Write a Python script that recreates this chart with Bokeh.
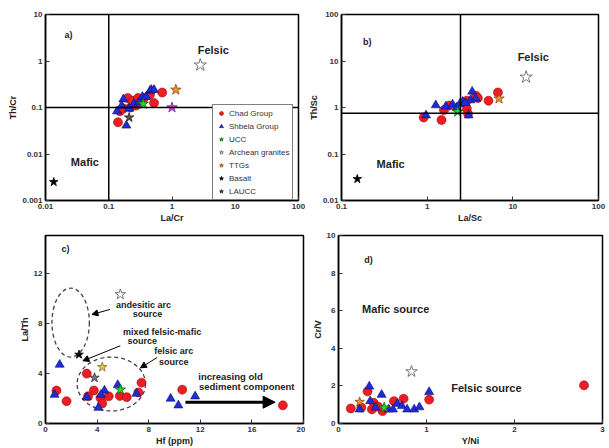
from bokeh.plotting import figure
from bokeh.models import (Range1d, Span, FixedTicker, CustomJSTickFormatter, Legend,
                          LegendItem, Arrow, NormalHead)
from bokeh.layouts import column, row
from bokeh.core.properties import value
from bokeh.embed import file_html
from bokeh.resources import INLINE

# ---------------- data ----------------
# panel a: La/Cr vs Th/Cr
a_chad_lacr = [0.14, 0.15, 0.17, 0.20, 0.22, 0.24, 0.27, 0.29, 0.31, 0.36, 0.45, 0.52, 0.70]
a_chad_thcr = [0.048, 0.083, 0.095, 0.16, 0.10, 0.14, 0.11, 0.16, 0.13, 0.16, 0.19, 0.125, 0.21]
a_shb_lacr = [0.135, 0.17, 0.19, 0.16, 0.21, 0.25, 0.30, 0.34, 0.39, 0.45, 0.47, 0.52]
a_shb_thcr = [0.083, 0.15, 0.041, 0.11, 0.095, 0.12, 0.13, 0.17, 0.17, 0.23, 0.24, 0.24]
a_ucc = (0.35, 0.12)
a_archean = (2.8, 0.82)
a_ttg = (1.15, 0.24)
a_basalt = (0.0135, 0.0025)
a_laucc = (0.21, 0.061)
a_other = (1.0, 0.1)
a_hline, a_vline = 0.1, 0.1

# panel b: La/Sc vs Th/Sc
b_chad_lasc = [0.91, 1.47, 1.57, 1.8, 2.9, 3.0, 3.7, 3.9, 5.2, 6.7, 2.9]
b_chad_thsc = [0.61, 0.54, 0.88, 1.1, 0.95, 0.74, 1.8, 1.6, 1.4, 2.1, 1.4]
b_shb_lasc = [0.97, 1.26, 1.65, 1.98, 2.2, 2.6, 3.2, 3.35, 3.05, 3.7, 2.4, 2.8]
b_shb_thsc = [0.68, 1.12, 1.05, 1.16, 1.0, 1.34, 1.43, 2.2, 0.68, 1.55, 1.2, 1.25]
b_ucc = (2.27, 0.81)
b_archean = (14.3, 4.5)
b_ttg = (6.9, 1.55)
b_basalt = (0.153, 0.029)
b_hline, b_vline = 0.75, 2.45

# panel c: Hf (ppm) vs La/Th
c_chad_hf = [0.85, 1.63, 3.2, 3.3, 3.75, 4.26, 4.4, 4.9, 5.76, 6.3, 7.2, 7.44, 10.6, 18.4]
c_chad_lath = [2.63, 1.78, 3.98, 2.17, 2.63, 2.04, 1.6, 2.17, 2.2, 2.1, 2.48, 3.26, 2.7, 1.45]
c_shb_hf = [0.7, 1.1, 3.2, 4.1, 4.57, 5.6, 7.05, 9.7, 10.3, 11.6, 4.3]
c_shb_lath = [2.3, 4.7, 2.1, 1.26, 2.63, 3.07, 2.38, 1.99, 1.45, 2.17, 2.3]
c_ucc = (5.8, 2.7)
c_archean = (5.8, 10.3)
c_ttg = (4.4, 4.5)
c_basalt = (2.6, 5.5)
c_laucc = (3.8, 3.65)
# source fields (centre x, centre y, width, height)
c_fields_x = [1.95, 5.1]
c_fields_y = [8.05, 3.15]
c_fields_w = [2.9, 5.3]
c_fields_h = [5.5, 4.3]

# panel d: Y/Ni vs Cr/V
d_chad_yni = [0.14, 0.33, 0.38, 0.40, 0.50, 0.63, 0.74, 1.03, 2.79, 0.26, 0.45]
d_chad_crv = [0.8, 1.71, 0.75, 1.1, 0.66, 1.19, 1.32, 1.27, 2.03, 0.85, 0.9]
d_shb_yni = [0.24, 0.35, 0.36, 0.49, 0.57, 0.67, 0.72, 0.78, 0.86, 0.92, 1.03, 0.42, 0.62]
d_shb_crv = [0.75, 1.97, 1.19, 1.53, 0.75, 1.05, 0.93, 0.75, 0.75, 0.87, 1.68, 0.85, 0.75]
d_ucc = (0.52, 0.84)
d_archean = (0.83, 2.76)
d_ttg = (0.24, 1.15)

legend_labels = ["Chad Group", "Shbela Group", "UCC", "Archean granites", "TTGs", "Basalt", "LAUCC"]

# ---------------- styling ----------------
FONT = "Liberation Sans"
RED, RED_L = "#ee1d23", "#9a0b0b"
BLUE, BLUE_L = "#1f2bd4", "#0a1070"
GREEN = "#2fd02f"
ORANGE = "#e8923a"


def make_fig(w, h, xr, yr, xtype, ytype, bl, br, bt, bb, xlabel, ylabel, xt, yt, log):
    p = figure(width=w, height=h, x_range=Range1d(*xr), y_range=Range1d(*yr),
               x_axis_type=xtype, y_axis_type=ytype, output_backend="svg",
               toolbar_location=None, min_border_left=bl, min_border_right=br,
               min_border_top=bt, min_border_bottom=bb)
    p.grid.visible = False
    p.outline_line_color = "black"
    p.outline_line_width = 1.5
    p.background_fill_color = "white"
    p.border_fill_color = "white"
    p.xaxis.ticker = FixedTicker(ticks=xt, minor_ticks=[])
    p.yaxis.ticker = FixedTicker(ticks=yt, minor_ticks=[])
    if log:
        fmt = "return tick.toString();"
        p.xaxis.formatter = CustomJSTickFormatter(code=fmt)
        p.yaxis.formatter = CustomJSTickFormatter(code=fmt)
    p.xaxis.axis_label = xlabel
    p.yaxis.axis_label = ylabel
    for ax in p.axis:
        ax.major_tick_in = 4
        ax.major_tick_out = 0
        ax.minor_tick_line_color = None
        ax.axis_line_color = "black"
        ax.axis_line_width = 1.5
        ax.major_tick_line_color = "#333"
        ax.major_label_text_font = FONT
        ax.major_label_text_font_style = "bold"
        ax.major_label_text_font_size = "8px"
        ax.major_label_text_color = "#333"
        ax.major_label_standoff = 3
        ax.axis_label_text_font = FONT
        ax.axis_label_text_font_style = "bold"
        ax.axis_label_text_font_size = "9px"
        ax.axis_label_text_color = "#222"
        ax.axis_label_standoff = 1
    return p


def txt(p, x, y, s, size="11px"):
    p.text(x=[x], y=[y], text=[s], text_font=value(FONT), text_font_style="bold",
           text_font_size=size, text_align="center", text_baseline="middle",
           text_color="#222")


def groups(p, cx, cy, sx, sy):
    r1 = p.scatter(cx, cy, marker="circle", size=9, fill_color=RED, line_color=RED_L, line_width=0.6)
    r2 = p.scatter(sx, sy, marker="triangle", size=9, fill_color=BLUE, line_color=BLUE_L, line_width=0.6)
    return r1, r2


def star(p, pt, fill, line, size=11, lw=0.8):
    return p.scatter([pt[0]], [pt[1]], marker="star", size=size, fill_color=fill,
                     line_color=line, line_width=lw)


# ---------------- panel a ----------------
pa = make_fig(305, 225, (0.01, 100), (0.001, 10), "log", "log", 45, 7, 14, 24,
              "La/Cr", "Th/Cr", [0.01, 0.1, 1, 10, 100], [0.001, 0.01, 0.1, 1, 10], True)
pa.add_layout(Span(location=a_vline, dimension="height", line_color="black", line_width=1.5))
pa.add_layout(Span(location=a_hline, dimension="width", line_color="black", line_width=1.5))
ra_chad, ra_shb = groups(pa, a_chad_lacr, a_chad_thcr, a_shb_lacr, a_shb_thcr)
ra_ucc = star(pa, a_ucc, GREEN, "#0a6a0a")
ra_arch = star(pa, a_archean, "white", "#777", size=13, lw=1)
ra_ttg = star(pa, a_ttg, ORANGE, "#8a4a10")
ra_bas = star(pa, a_basalt, "black", "black", size=9)
ra_lau = star(pa, a_laucc, "#555", "#222", size=10)
star(pa, a_other, "#c04fd0", "#7a2a8a")
txt(pa, 4.5, 1.7, "Felsic")
txt(pa, 0.042, 0.0068, "Mafic")
txt(pa, 0.023, 3.6, "a)", "9px")
legend = Legend(items=[LegendItem(label=l, renderers=[r]) for l, r in zip(
    legend_labels, [ra_chad, ra_shb, ra_ucc, ra_arch, ra_ttg, ra_bas, ra_lau])],
    location=(167, 0), label_text_font=FONT, label_text_font_size="8px",
    label_text_color="#333", label_height=10, glyph_height=10, glyph_width=10,
    spacing=3, padding=3, label_standoff=3, margin=0,
    border_line_color="black", border_line_width=1.5, background_fill_alpha=1)
pa.add_layout(legend)

# ---------------- panel b ----------------
pb = make_fig(304, 225, (0.1, 100), (0.01, 100), "log", "log", 36, 11, 14, 23,
              "La/Sc", "Th/Sc", [0.1, 1, 10, 100], [0.01, 0.1, 1, 10, 100], True)
pb.add_layout(Span(location=b_vline, dimension="height", line_color="black", line_width=1.5))
pb.add_layout(Span(location=b_hline, dimension="width", line_color="black", line_width=1.5))
groups(pb, b_chad_lasc, b_chad_thsc, b_shb_lasc, b_shb_thsc)
star(pb, b_ucc, GREEN, "#0a6a0a")
star(pb, b_archean, "white", "#777", size=13, lw=1)
star(pb, b_ttg, ORANGE, "#8a4a10")
star(pb, b_basalt, "black", "black", size=9)
txt(pb, 17.3, 12.2, "Felsic")
txt(pb, 0.375, 0.061, "Mafic")
txt(pb, 0.2, 25, "b)", "9px")

# ---------------- panel c ----------------
pc = make_fig(305, 223, (0, 20), (0, 15), "linear", "linear", 45, 2, 9, 20,
              "Hf (ppm)", "La/Th", [0, 4, 8, 12, 16, 20], [0, 4, 8, 12], False)
pc.ellipse(x=c_fields_x, y=c_fields_y, width=c_fields_w, height=c_fields_h,
           fill_alpha=0, line_color="#444", line_width=1.3, line_dash="4 3")
groups(pc, c_chad_hf, c_chad_lath, c_shb_hf, c_shb_lath)
star(pc, c_ucc, GREEN, "#0a6a0a")
star(pc, c_archean, "white", "#777", size=11, lw=1)
star(pc, c_ttg, "#e8c060", "#8a6a20", size=10)
star(pc, c_basalt, "black", "black", size=9)
star(pc, c_laucc, "#777", "#333", size=10)
pc.add_layout(Arrow(end=NormalHead(size=12, fill_color="black", line_color="black"),
                    x_start=10.85, y_start=1.7, x_end=17.8, y_end=1.7, line_width=3))
for xs, ys, xe, ye in [(5.0, 9.1, 3.6, 8.7), (5.8, 6.2, 2.9, 5.0), (8.66, 5.27, 7.36, 4.44)]:
    pc.add_layout(Arrow(end=NormalHead(size=6, fill_color="black", line_color="black"),
                        x_start=xs, y_start=ys, x_end=xe, y_end=ye, line_width=1))
txt(pc, 7.6, 9.46, "andesitic arc", "9px")
txt(pc, 7.9, 8.76, "source", "9px")
txt(pc, 9.04, 7.34, "mixed felsic-mafic", "9px")
txt(pc, 7.5, 6.57, "source", "9px")
txt(pc, 9.95, 5.79, "felsic arc", "9px")
txt(pc, 9.95, 4.88, "source", "9px")
txt(pc, 14.34, 3.72, "increasing old", "9.5px")
txt(pc, 15.6, 2.95, "sediment component", "9.5px")
txt(pc, 1.55, 13.9, "c)", "9px")

# ---------------- panel d ----------------
pd_ = make_fig(304, 223, (0, 3), (0, 10), "linear", "linear", 33, 7, 10, 22,
               "Y/Ni", "Cr/V", [0, 1, 2, 3], [0, 2, 4, 6, 8, 10], False)
groups(pd_, d_chad_yni, d_chad_crv, d_shb_yni, d_shb_crv)
star(pd_, d_ucc, GREEN, "#0a6a0a")
star(pd_, d_archean, "white", "#777", size=12, lw=1)
star(pd_, d_ttg, ORANGE, "#8a4a10", size=10)
txt(pd_, 0.65, 6.07, "Mafic source")
txt(pd_, 1.68, 1.88, "Felsic source")
txt(pd_, 0.34, 8.7, "d)", "9px")

layout = column(row(pa, pb), row(pc, pd_))
open("out.html", "w").write(file_html(layout, INLINE))
